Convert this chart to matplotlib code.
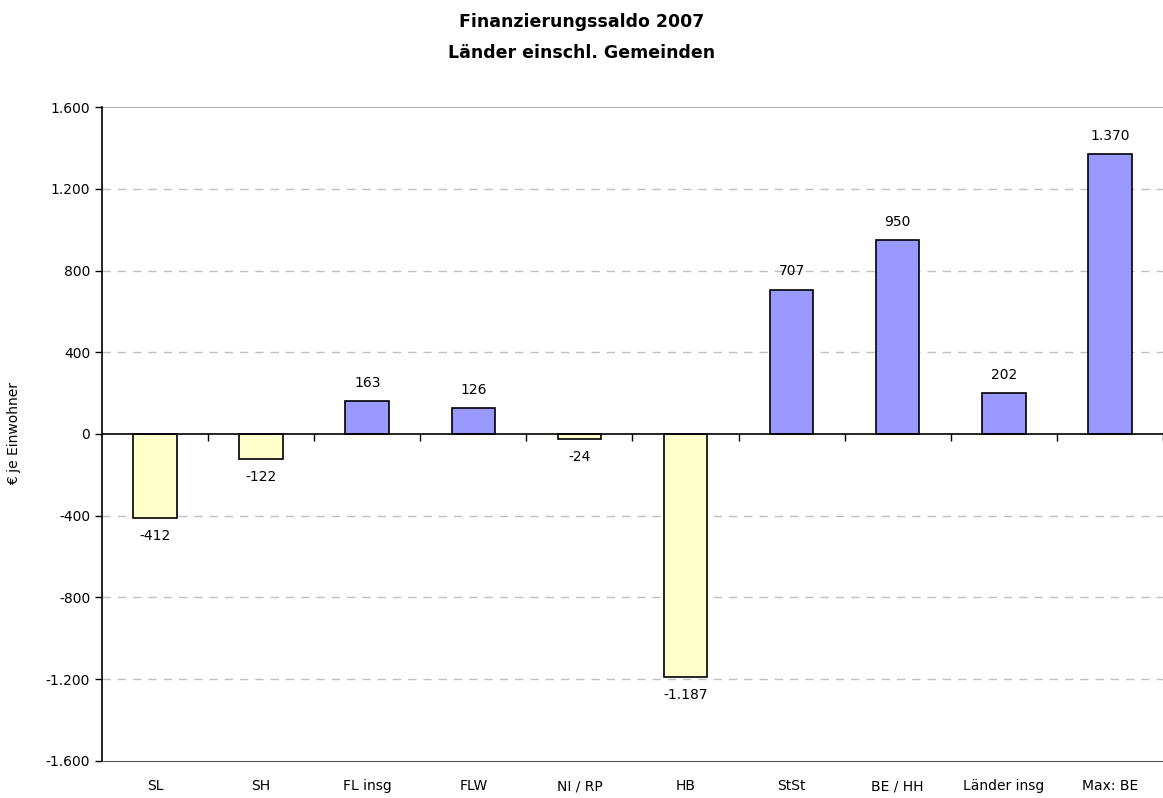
import matplotlib.pyplot as plt
import numpy as np

# Finanzierungssaldo 2007, Euro je Einwohner
categories = ['SL', 'SH', 'FL insg', 'FLW', 'NI / RP', 'HB', 'StSt', 'BE / HH', 'Länder insg', 'Max: BE']
values = [-412, -122, 163, 126, -24, -1187, 707, 950, 202, 1370]
yticks = [-1600, -1200, -800, -400, 0, 400, 800, 1200, 1600]


def de_fmt(v):
    # German thousands separator
    return f'{v:,.0f}'.replace(',', '.')


plt.rcParams['font.family'] = ['DejaVu Sans']

fig = plt.figure(figsize=(11.63, 7.98), dpi=100)
ax = fig.add_axes([0.0877, 0.0464, 0.9123, 0.8195])

x = np.arange(len(categories))
colors = ['#9999FF' if v > 0 else '#FFFFCC' for v in values]
ax.bar(x, values, width=0.41, color=colors, edgecolor='black', linewidth=1.2, zorder=3)

for xi, v in zip(x, values):
    if v >= 0:
        ax.annotate(de_fmt(v), (xi, v), xytext=(0, 8), textcoords='offset points',
                    ha='center', va='bottom', fontsize=10)
    else:
        ax.annotate(de_fmt(v), (xi, v), xytext=(0, -8), textcoords='offset points',
                    ha='center', va='top', fontsize=10)

ax.set_xlim(-0.5, len(categories) - 0.5)
ax.set_ylim(-1600, 1600)
ax.set_yticks(yticks)
ax.set_yticklabels([de_fmt(t) for t in yticks], fontsize=10)
ax.tick_params(axis='y', direction='out', length=5, width=1)

ax.set_xticks(x)
ax.set_xticklabels(categories, fontsize=10)
ax.tick_params(axis='x', length=0, pad=13)

for t in yticks[1:-1]:
    if t != 0:
        ax.axhline(t, color='#c0c0c0', linestyle=(0, (6, 5)), linewidth=1, zorder=1)
ax.axhline(1600, color='#a0a0a0', linewidth=1.2, zorder=1)
ax.axhline(0, color='black', linewidth=1.2, zorder=4)

ax.spines['top'].set_visible(False)
ax.spines['right'].set_visible(False)
ax.spines['bottom'].set_color('#555555')
ax.spines['left'].set_linewidth(1.2)

# ticks on the zero line between the categories, pointing down
sec = ax.secondary_xaxis(0.5)
sec.set_xticks(np.arange(len(categories)) + 0.5)
sec.set_xticklabels([])
sec.tick_params(direction='in', length=5, width=1)
for s in sec.spines.values():
    s.set_visible(False)

ax.set_ylabel('€ je Einwohner', fontsize=10, labelpad=18)

fig.text(0.5, 1 - 22 / 798, 'Finanzierungssaldo 2007', ha='center', va='center', fontsize=12.5, fontweight='bold')
fig.text(0.5, 1 - 53 / 798, 'Länder einschl. Gemeinden', ha='center', va='center', fontsize=12.5, fontweight='bold')

fig.savefig('out.png', dpi=100)
